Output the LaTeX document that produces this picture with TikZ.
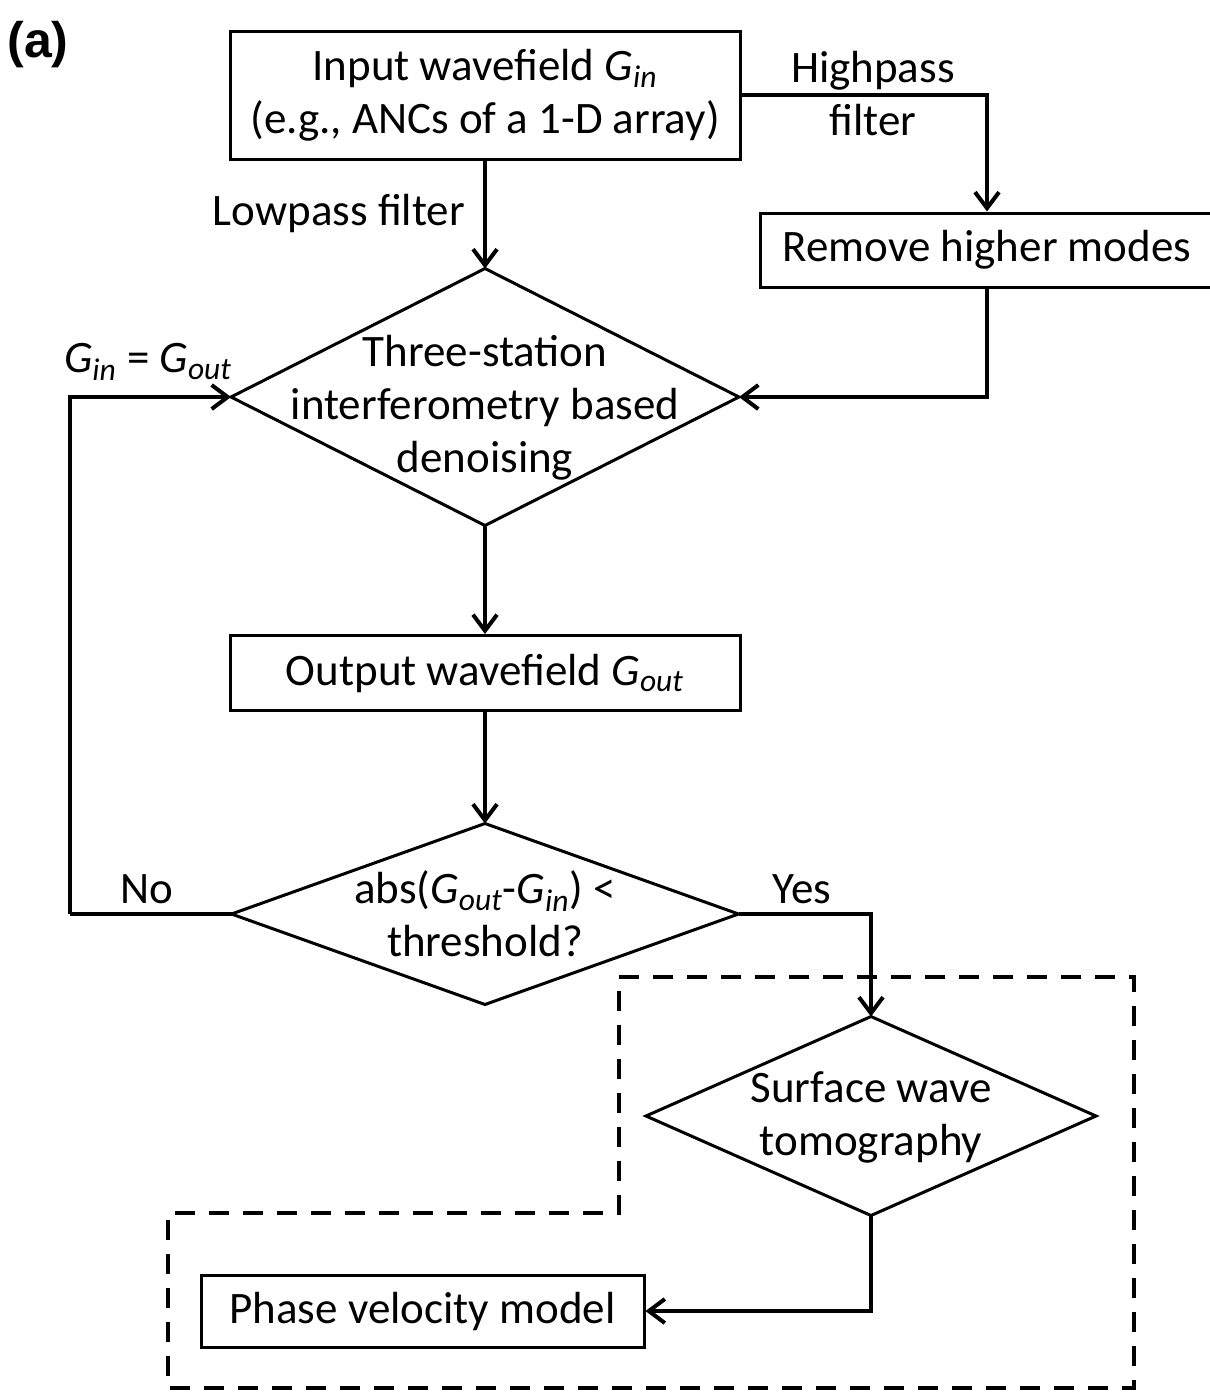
\documentclass[tikz,border=0pt]{standalone}
\usepackage{fontspec}
\setmainfont{Carlito}
\newfontfamily\panelfont{Liberation Sans}
\usepackage{tikz}
\usetikzlibrary{arrows.meta,shapes.geometric}

% italic G with an italic subscript
\newcommand{\Gsub}[1]{\textit{G}\textsubscript{\textit{#1}}}

\begin{document}
\begin{tikzpicture}[x=0.5pt,y=-0.5pt,
  font=\fontsize{22.5}{26.5}\selectfont,
  stepbox/.style={draw, line width=1.5pt, rectangle, inner sep=0pt, align=center},
  decision/.style={draw, line width=1.5pt, diamond, inner sep=0pt, outer sep=0pt},
  arr/.style={line width=2pt, -{Straight Barb[length=8pt,width=12pt,line width=2pt]}},
  flow/.style={line width=2pt},
  region/.style={line width=2.2pt, dash pattern=on 10pt off 7pt}]

\useasboundingbox (0,0) rectangle (1210,1393);

% Panel letter
\node[font=\panelfont\bfseries\fontsize{25}{28}\selectfont] (panel) at (38,45) {(a)};

% Boxes
\node[stepbox, minimum width=255pt, minimum height=64pt] (input) at (485,95)
  {Input wavefield \Gsub{in}\\(e.g., ANCs of a 1-D array)};
\node[stepbox, minimum width=227pt, minimum height=37pt] (remove) at (987,250)
  {Remove higher modes};
\node[stepbox, minimum width=255pt, minimum height=37.5pt] (output) at (485,673)
  {Output wavefield \Gsub{out}};
\node[stepbox, minimum width=221.5pt, minimum height=36pt] (phase) at (422.5,1311)
  {Phase velocity model};

% Decisions (text put in as centred labels so it does not grow the diamond)
\node[decision, minimum width=254pt, minimum height=128.5pt,
  label={[align=center, yshift=-5.5pt]center:Three-station\\interferometry based\\denoising}]
  (denoise) at (485,397) {};
\node[decision, minimum width=253.5pt, minimum height=90.5pt,
  label={[align=center]center:abs(\Gsub{out}-\Gsub{in}) <\\threshold?}]
  (thresh) at (485,914) {};
\node[decision, minimum width=225pt, minimum height=99.5pt,
  label={[align=center, yshift=-0.5pt]center:Surface wave\\tomography}]
  (tomo) at (871,1116) {};

% Tomography part
\draw[region] (619,977) -- (1134,977) -- (1134,1388) -- (168,1388)
  -- (168,1213) -- (619,1213) -- cycle;

% Main flow
\draw[arr] (input) -- (denoise);
\draw[arr] (input.east) -| (remove.north);
\draw[arr] (remove.south) |- (denoise.east);
\draw[arr] (denoise) -- (output);
\draw[arr] (output) -- (thresh);

% Loop back when not converged
\coordinate (loop) at (70,914);
\draw[flow] (thresh.west) -- (loop);
\draw[arr] (loop) |- (denoise.west);

% Converged
\draw[arr] (thresh.east) -| (tomo.north);
\draw[arr] (tomo.south) |- (phase.east);

% Edge labels
\node[anchor=east] (lowpass) at (472,213) {Lowpass filter};
\node[align=center] (highpass) at (873,94) {Highpass\\filter};
\node (update) at (148,362) {\Gsub{in} = \Gsub{out}};
\node (no) at (147,889) {No};
\node (yes) at (802,889) {Yes};

\end{tikzpicture}
\end{document}
